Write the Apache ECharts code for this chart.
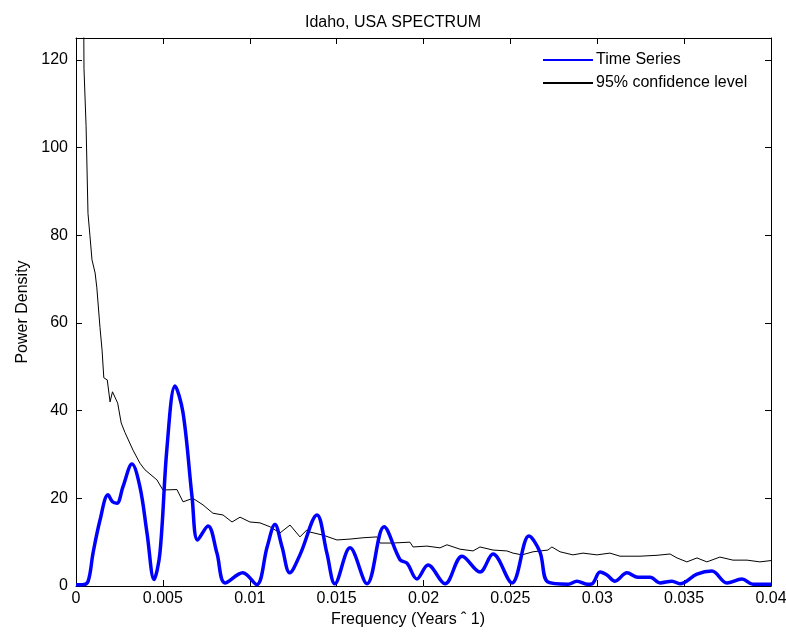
<!DOCTYPE html>
<html>
<head>
<meta charset="utf-8">
<script src="https://cdn.jsdelivr.net/npm/echarts@6/dist/echarts.min.js"></script>
<style>html,body{margin:0;padding:0;background:#fff;}#c{width:786px;height:639px;}</style>
</head>
<body>
<div id="c"></div>
<script>
const xTicks = [0, 0.005, 0.01, 0.015, 0.02, 0.025, 0.03, 0.035, 0.04];
const yTicks = [0, 20, 40, 60, 80, 100, 120];

const tsFreq = [0, 0.00035, 0.00069, 0.00098, 0.00138, 0.00184, 0.0021, 0.00236, 0.0027, 0.00322, 0.00368, 0.00409, 0.00449, 0.00483, 0.00524, 0.0057, 0.00616, 0.00668, 0.0070, 0.0076, 0.00811, 0.00858, 0.0096, 0.0104, 0.011, 0.01145, 0.01186, 0.0123, 0.01289, 0.01387, 0.01444, 0.0149, 0.01577, 0.01675, 0.01773, 0.01865, 0.01905, 0.01962, 0.02026, 0.02124, 0.02222, 0.02325, 0.024, 0.02509, 0.02607, 0.0267, 0.02716, 0.02832, 0.02883, 0.02941, 0.0297, 0.03016, 0.03056, 0.03102, 0.03171, 0.03234, 0.03304, 0.03361, 0.0343, 0.03476, 0.03574, 0.0366, 0.03746, 0.03833, 0.03896, 0.04];
const tsVal = [0.3, 0.3, 1, 7.5, 15, 20.8, 19.2, 18.9, 22.6, 27.8, 22.6, 12, 1.5, 7.5, 31.7, 45.6, 39.5, 20.3, 10.5, 13.7, 7.5, 0.7, 3, 0.3, 8.9, 14, 8.9, 3, 7.1, 16.2, 7.5, 0.5, 8.7, 0.5, 13.5, 6, 5.2, 1.6, 4.8, 0.5, 6.8, 3.2, 7.3, 0.7, 11.4, 7.8, 0.9, 0.4, 1.1, 0.4, 0.5, 3.2, 2.5, 1.1, 3, 2, 2, 0.7, 1.1, 0.5, 2.7, 3.4, 0.7, 1.6, 0.4, 0.4];

const clFreq = [0.0004, 0.00046, 0.00058, 0.00069, 0.0008, 0.00092, 0.0011, 0.0012, 0.00138, 0.0015, 0.0016, 0.0018, 0.00196, 0.0021, 0.0024, 0.0026, 0.00282, 0.00328, 0.00368, 0.00397, 0.00466, 0.005, 0.00581, 0.00616, 0.00673, 0.00731, 0.00788, 0.00846, 0.00898, 0.00944, 0.01001, 0.01059, 0.01117, 0.01174, 0.01232, 0.01289, 0.01329, 0.01347, 0.01422, 0.01502, 0.01577, 0.01652, 0.01732, 0.0175, 0.01824, 0.01922, 0.0194, 0.0202, 0.02095, 0.02135, 0.0221, 0.02285, 0.02325, 0.024, 0.0248, 0.02515, 0.02567, 0.0263, 0.02716, 0.02739, 0.02786, 0.0286, 0.02918, 0.02998, 0.03073, 0.03131, 0.03246, 0.03344, 0.03419, 0.03459, 0.03516, 0.03574, 0.03631, 0.03706, 0.03781, 0.03862, 0.03936, 0.04];
const clVal = [160, 118, 105, 85, 80, 74.4, 71.4, 68, 59, 53.8, 47.5, 47, 42, 44.3, 41.7, 37.2, 35, 31, 28, 26.5, 24.2, 21.9, 22, 19.2, 20, 18.5, 16.6, 16.2, 14.6, 15.7, 14.6, 14.4, 13.5, 12.1, 13.9, 11.2, 12.8, 12.3, 11.6, 10.5, 10.7, 11, 11.2, 9.8, 9.8, 10, 8.9, 9.1, 8.7, 9.4, 8.4, 8, 8.9, 8.2, 8, 7.5, 7.1, 7.8, 8.2, 8.9, 7.8, 7.1, 7.5, 7.1, 7.5, 6.8, 6.8, 7, 7.3, 6.4, 5.5, 6.4, 5.5, 6.6, 5.9, 5.9, 5.5, 5.8];

const FONT = 'Liberation Sans, Arial, sans-serif';
const FS = 16;
const chart = echarts.init(document.getElementById('c'));
const tsData = tsFreq.map((f, i) => [f, tsVal[i]]);
const clData = clFreq.map((f, i) => [f, clVal[i]]);

const axisCommon = {
  type: 'value',
  axisLine: { show: true, onZero: false, lineStyle: { color: '#000', width: 1 } },
  axisTick: { show: true, inside: true, length: 6, lineStyle: { color: '#000' } },
  splitLine: { show: false }
};

chart.setOption({
  animation: false,
  backgroundColor: '#fff',
  title: {
    text: 'Idaho, USA SPECTRUM',
    left: 'center', top: 10,
    textStyle: { fontFamily: FONT, fontSize: FS, fontWeight: 'normal', color: '#000' }
  },
  legend: {
    orient: 'vertical', left: 537, top: 47,
    itemWidth: 50, itemHeight: 14, itemGap: 7,
    itemStyle: { opacity: 0 },
    textStyle: { fontFamily: FONT, fontSize: FS, color: '#000', padding: [0, 0, 0, -2] },
    data: ['Time Series', '95% confidence level']
  },
  grid: { left: 76, right: 15, top: 38, bottom: 53, containLabel: false, outerBoundsMode: 'none' },
  xAxis: [
    Object.assign({}, axisCommon, {
      min: 0, max: 0.04, interval: 0.005, position: 'bottom',
      name: 'Frequency (Years \u02C6 1)', nameLocation: 'middle', nameGap: 23,
      nameTextStyle: { fontFamily: FONT, fontSize: FS, color: '#000', padding: [0, 31, 0, 0] },
      axisLabel: { fontFamily: FONT, fontSize: FS, color: '#000', margin: 5,
        formatter: v => xTicks.includes(+v.toFixed(3)) ? String(+v.toFixed(3)) : '' }
    }),
    Object.assign({}, axisCommon, {
      min: 0, max: 0.04, interval: 0.005, position: 'top',
      axisLabel: { show: false }
    })
  ],
  yAxis: [
    Object.assign({}, axisCommon, {
      min: 0, max: 125, interval: 20, position: 'left',
      name: 'Power Density', nameLocation: 'middle', nameGap: 45, nameRotate: 90,
      nameTextStyle: { fontFamily: FONT, fontSize: FS, color: '#000' },
      axisLabel: { fontFamily: FONT, fontSize: FS, color: '#000', margin: 8,
        formatter: v => yTicks.includes(v) ? String(v) : '' }
    }),
    Object.assign({}, axisCommon, {
      min: 0, max: 125, interval: 20, position: 'right',
      axisLabel: { show: false }
    })
  ],
  series: [
    {
      name: 'Time Series', type: 'line', data: tsData,
      xAxisIndex: 0, yAxisIndex: 0,
      showSymbol: false, symbol: 'none', smooth: 0.35,
      lineStyle: { color: '#0000ff', width: 3.5 },
      itemStyle: { color: '#0000ff' }, z: 3
    },
    {
      name: '95% confidence level', type: 'line', data: clData,
      xAxisIndex: 0, yAxisIndex: 0,
      showSymbol: false, symbol: 'none',
      lineStyle: { color: '#000', width: 1 },
      itemStyle: { color: '#000' }, z: 2
    }
  ]
});
</script>
</body>
</html>
